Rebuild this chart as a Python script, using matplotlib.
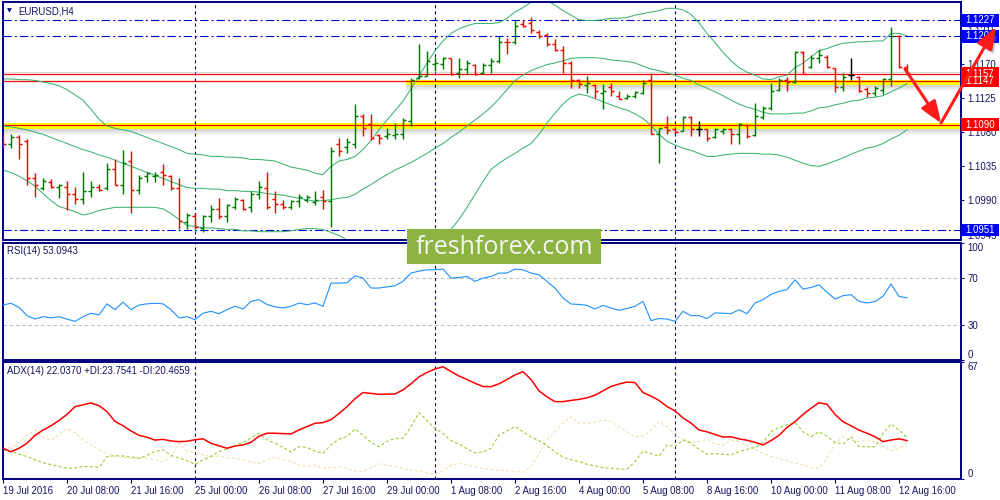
import matplotlib
matplotlib.use('Agg')
import matplotlib.pyplot as plt
import numpy as np
from matplotlib.collections import LineCollection
from matplotlib.patches import Rectangle, FancyArrowPatch
import matplotlib.patheffects as pe
import matplotlib.transforms as mtransforms

plt.rcParams['lines.scale_dashes'] = False
plt.rcParams['font.family'] = ['Liberation Sans', 'DejaVu Sans']

# ---------------- data ----------------
symbol = 'EURUSD,H4'
time_labels = ['19 Jul 2016', '20 Jul 08:00', '21 Jul 16:00', '25 Jul 00:00', '26 Jul 08:00',
               '27 Jul 16:00', '29 Jul 00:00', '1 Aug 08:00', '2 Aug 16:00', '4 Aug 00:00',
               '5 Aug 08:00', '8 Aug 16:00', '10 Aug 00:00', '11 Aug 08:00', '12 Aug 16:00']
time_label_bars = [0, 8, 16, 24, 32, 40, 48, 56, 64, 72, 80, 88, 96, 104, 112]
week_start_bars = [24, 54, 84]

opens = [1.1075, 1.1064, 1.1073, 1.1068, 1.1020, 1.1007, 1.1015, 1.1008, 1.1008, 1.0998,
         1.0992, 1.1002, 1.1008, 1.1006, 1.1031, 1.1011, 1.1042, 1.1004, 1.1022, 1.1022,
         1.1027, 1.1022, 1.1006, 1.0962, 1.0969, 1.0954, 1.0970, 1.0979, 1.0969, 1.0981,
         1.0990, 1.0981, 1.0999, 1.1007, 1.0992, 1.0985, 1.0981, 1.0989, 1.0990, 1.0988,
         1.0995, 1.0989, 1.1065, 1.1061, 1.1065, 1.1101, 1.1091, 1.1076, 1.1075, 1.1076,
         1.1077, 1.1094, 1.1151, 1.1154, 1.1170, 1.1170, 1.1177, 1.1158, 1.1163, 1.1169,
         1.1158, 1.1169, 1.1173, 1.1199, 1.1198, 1.1222, 1.1224, 1.1212, 1.1208, 1.1196,
         1.1188, 1.1171, 1.1148, 1.1142, 1.1142, 1.1132, 1.1139, 1.1128, 1.1125, 1.1128,
         1.1132, 1.1148, 1.1078, 1.1087, 1.1084, 1.1081, 1.1100, 1.1084, 1.1084, 1.1073,
         1.1081, 1.1084, 1.1078, 1.1089, 1.1076, 1.1100, 1.1112, 1.1136, 1.1148, 1.1146,
         1.1186, 1.1166, 1.1178, 1.1179, 1.1165, 1.1139, 1.1155, 1.1153, 1.1137, 1.1132,
         1.1136, 1.1150, 1.1207, 1.1166]
highs = [1.1077, 1.1077, 1.1076, 1.1071, 1.1026, 1.1019, 1.1018, 1.1012, 1.1016, 1.1008,
         1.1027, 1.1016, 1.1012, 1.1039, 1.1044, 1.1056, 1.1055, 1.1024, 1.1028, 1.1027,
         1.1038, 1.1024, 1.1019, 1.0973, 1.0973, 1.0971, 1.0984, 1.0993, 1.0986, 1.0994,
         1.0992, 1.1002, 1.1016, 1.1027, 1.1003, 1.0990, 1.0990, 1.0998, 1.0997, 1.1002,
         1.1004, 1.1061, 1.1072, 1.1072, 1.1117, 1.1104, 1.1104, 1.1077, 1.1085, 1.1092,
         1.1098, 1.1151, 1.1196, 1.1187, 1.1179, 1.1179, 1.1178, 1.1177, 1.1175, 1.1170,
         1.1171, 1.1178, 1.1207, 1.1204, 1.1228, 1.1227, 1.1232, 1.1215, 1.1211, 1.1202,
         1.1194, 1.1174, 1.1150, 1.1154, 1.1143, 1.1143, 1.1145, 1.1134, 1.1130, 1.1134,
         1.1148, 1.1158, 1.1085, 1.1101, 1.1085, 1.1101, 1.1101, 1.1094, 1.1084, 1.1085,
         1.1085, 1.1085, 1.1092, 1.1091, 1.1118, 1.1114, 1.1145, 1.1151, 1.1153, 1.1187,
         1.1187, 1.1181, 1.1190, 1.1181, 1.1165, 1.1158, 1.1178, 1.1154, 1.1139, 1.1141,
         1.1151, 1.1219, 1.1208, 1.1170]
lows = [1.1059, 1.1059, 1.1044, 1.1010, 1.0994, 1.1004, 1.1006, 1.0993, 1.0978, 1.0986,
        1.0986, 1.0995, 1.1002, 1.1004, 1.1011, 1.0999, 1.0974, 1.0999, 1.1015, 1.1015,
        1.1011, 1.1004, 1.0952, 1.0952, 1.0953, 1.0948, 1.0962, 1.0966, 1.0962, 1.0979,
        1.0978, 1.0975, 1.0992, 1.0979, 1.0973, 1.0979, 1.0979, 1.0982, 1.0988, 1.0984,
        1.0979, 1.0955, 1.1048, 1.1052, 1.1059, 1.1075, 1.1069, 1.1064, 1.1071, 1.1071,
        1.1071, 1.1088, 1.1150, 1.1154, 1.1161, 1.1163, 1.1155, 1.1151, 1.1157, 1.1155,
        1.1157, 1.1158, 1.1171, 1.1183, 1.1196, 1.1218, 1.1210, 1.1204, 1.1194, 1.1187,
        1.1158, 1.1138, 1.1138, 1.1132, 1.1125, 1.1110, 1.1128, 1.1124, 1.1124, 1.1125,
        1.1130, 1.1077, 1.1040, 1.1078, 1.1077, 1.1081, 1.1075, 1.1075, 1.1068, 1.1072,
        1.1077, 1.1065, 1.1065, 1.1072, 1.1075, 1.1097, 1.1109, 1.1134, 1.1134, 1.1145,
        1.1157, 1.1165, 1.1171, 1.1165, 1.1133, 1.1134, 1.1148, 1.1133, 1.1126, 1.1128,
        1.1130, 1.1141, 1.1165, 1.1157]
closes = [1.1064, 1.1073, 1.1064, 1.1019, 1.1011, 1.1016, 1.1008, 1.1011, 1.0998, 1.0992,
          1.1002, 1.1008, 1.1004, 1.1032, 1.1011, 1.1039, 1.1004, 1.1019, 1.1026, 1.1024,
          1.1024, 1.1006, 1.0963, 1.0971, 1.0955, 1.0970, 1.0979, 1.0969, 1.0984, 1.0992,
          1.0979, 1.0999, 1.1008, 1.0981, 1.0985, 1.0981, 1.0989, 1.0995, 1.0994, 1.0990,
          1.0989, 1.1055, 1.1055, 1.1067, 1.1101, 1.1085, 1.1072, 1.1072, 1.1077, 1.1077,
          1.1096, 1.1148, 1.1154, 1.1173, 1.1171, 1.1177, 1.1157, 1.1163, 1.1171, 1.1157,
          1.1169, 1.1174, 1.1199, 1.1198, 1.1220, 1.1220, 1.1214, 1.1206, 1.1196, 1.1188,
          1.1171, 1.1148, 1.1143, 1.1145, 1.1134, 1.1134, 1.1134, 1.1124, 1.1128, 1.1133,
          1.1145, 1.1078, 1.1085, 1.1083, 1.1080, 1.1100, 1.1084, 1.1084, 1.1072, 1.1084,
          1.1084, 1.1078, 1.1091, 1.1075, 1.1101, 1.1112, 1.1134, 1.1148, 1.1146, 1.1185,
          1.1157, 1.1178, 1.1181, 1.1166, 1.1139, 1.1153, 1.1155, 1.1134, 1.1132, 1.1138,
          1.1150, 1.1207, 1.1166, 1.1158]

bb_upper = [1.1150, 1.1150, 1.1149, 1.1149, 1.1148, 1.1146, 1.1144, 1.1141, 1.1136, 1.1129,
            1.1122, 1.1110, 1.1097, 1.1088, 1.1085, 1.1083, 1.1081, 1.1077, 1.1073, 1.1069,
            1.1065, 1.1061, 1.1057, 1.1052, 1.1051, 1.1050, 1.1048, 1.1048, 1.1047, 1.1047,
            1.1046, 1.1044, 1.1044, 1.1043, 1.1042, 1.1038, 1.1034, 1.1032, 1.1030, 1.1026,
            1.1024, 1.1035, 1.1042, 1.1044, 1.1048, 1.1057, 1.1069, 1.1083, 1.1096, 1.1108,
            1.1121, 1.1137, 1.1154, 1.1171, 1.1187, 1.1200, 1.1210, 1.1216, 1.1220, 1.1223,
            1.1223, 1.1223, 1.1224, 1.1230, 1.1238, 1.1244, 1.1251, 1.1255, 1.1253, 1.1247,
            1.1240, 1.1234, 1.1228, 1.1227, 1.1227, 1.1228, 1.1230, 1.1230, 1.1231, 1.1234,
            1.1236, 1.1238, 1.1240, 1.1243, 1.1243, 1.1241, 1.1235, 1.1224, 1.1210, 1.1198,
            1.1185, 1.1174, 1.1165, 1.1159, 1.1155, 1.1150, 1.1149, 1.1153, 1.1155, 1.1165,
            1.1171, 1.1179, 1.1187, 1.1190, 1.1194, 1.1197, 1.1198, 1.1199, 1.1199, 1.1200,
            1.1200, 1.1210, 1.1210, 1.1207]
bb_middle = [1.1088, 1.1087, 1.1085, 1.1083, 1.1080, 1.1077, 1.1073, 1.1069, 1.1065, 1.1061,
             1.1057, 1.1054, 1.1050, 1.1047, 1.1043, 1.1039, 1.1035, 1.1031, 1.1027, 1.1023,
             1.1019, 1.1015, 1.1011, 1.1007, 1.1006, 1.1006, 1.1005, 1.1005, 1.1003, 1.1003,
             1.1002, 1.1002, 1.1001, 1.0999, 1.0998, 1.0997, 1.0995, 1.0993, 1.0991, 1.0989,
             1.0990, 1.0991, 1.0993, 1.0994, 1.0998, 1.1005, 1.1011, 1.1018, 1.1024, 1.1030,
             1.1035, 1.1040, 1.1046, 1.1052, 1.1059, 1.1065, 1.1073, 1.1080, 1.1088, 1.1096,
             1.1104, 1.1113, 1.1124, 1.1136, 1.1148, 1.1155, 1.1161, 1.1165, 1.1169, 1.1171,
             1.1174, 1.1177, 1.1178, 1.1178, 1.1178, 1.1177, 1.1175, 1.1174, 1.1173, 1.1171,
             1.1167, 1.1163, 1.1161, 1.1158, 1.1155, 1.1151, 1.1148, 1.1142, 1.1138, 1.1133,
             1.1128, 1.1122, 1.1117, 1.1113, 1.1110, 1.1106, 1.1104, 1.1104, 1.1104, 1.1105,
             1.1105, 1.1108, 1.1112, 1.1113, 1.1116, 1.1118, 1.1121, 1.1122, 1.1125, 1.1126,
             1.1128, 1.1133, 1.1138, 1.1144]
bb_lower = [1.1030, 1.1027, 1.1022, 1.1016, 1.1009, 1.0999, 1.0990, 1.0982, 1.0979, 1.0975,
            1.0971, 1.0973, 1.0977, 1.0979, 1.0981, 1.0981, 1.0981, 1.0981, 1.0981, 1.0981,
            1.0979, 1.0973, 1.0965, 1.0957, 1.0956, 1.0954, 1.0954, 1.0953, 1.0952, 1.0952,
            1.0950, 1.0950, 1.0949, 1.0949, 1.0949, 1.0949, 1.0950, 1.0952, 1.0953, 1.0953,
            1.0952, 1.0948, 1.0944, 1.0938, 1.0934, 1.0932, 1.0930, 1.0930, 1.0930, 1.0932,
            1.0933, 1.0936, 1.0938, 1.0941, 1.0944, 1.0946, 1.0952, 1.0965, 1.0981, 1.0998,
            1.1015, 1.1031, 1.1039, 1.1046, 1.1052, 1.1059, 1.1065, 1.1077, 1.1092, 1.1105,
            1.1117, 1.1126, 1.1130, 1.1128, 1.1124, 1.1120, 1.1116, 1.1112, 1.1109, 1.1104,
            1.1098, 1.1089, 1.1077, 1.1068, 1.1063, 1.1059, 1.1056, 1.1052, 1.1048, 1.1048,
            1.1050, 1.1051, 1.1052, 1.1052, 1.1052, 1.1051, 1.1051, 1.1050, 1.1047, 1.1043,
            1.1039, 1.1036, 1.1035, 1.1038, 1.1042, 1.1046, 1.1051, 1.1055, 1.1059, 1.1061,
            1.1065, 1.1071, 1.1076, 1.1083]

rsi = [47, 48.5, 45, 38, 35, 37, 36, 37, 35, 33,
       37, 40, 38.5, 48, 43, 49.5, 43, 47, 48, 48.5,
       48, 43, 36, 37, 34.5, 40, 41.6, 39.6, 43, 45.9,
       43.6, 50.1, 51.6, 47.5, 45.5, 44.5, 45.9, 48.7, 47.3, 48.7,
       45.9, 65.7, 65.7, 66, 72, 70, 61.5, 61.5, 62.5, 63.5,
       67.2, 74.3, 76, 77.1, 77.1, 77.7, 70, 70.5, 71.4, 67.2,
       70, 71.4, 74.3, 74.3, 77.7, 77.1, 74.3, 72.8, 67.2, 61.5,
       53, 47.9, 47.5, 46.7, 43.6, 46.7, 44.5, 42.5, 44, 45.9,
       50.1, 33.7, 35.4, 35, 33.1, 41.6, 37.9, 37.9, 35.4, 40.2,
       40, 39.6, 43, 39.6, 48.7, 51.6, 56, 58.7, 60.1, 68.6,
       60.6, 62, 64.3, 58, 52.1, 55, 55.8, 50.1, 48.7, 50,
       54.4, 64.9, 54.4, 53.1]

adx = [17.6, 15.6, 17.6, 20.5, 25, 28, 30.5, 33.5, 37, 41.4,
       42.5, 43.5, 42, 38.6, 33, 30.5, 27.5, 25, 23.9, 22.3,
       22.7, 21.8, 21.4, 21.6, 22.5, 23, 20.4, 19, 17.6, 18.9,
       19.5, 21, 24.5, 26.2, 26.2, 26, 25.8, 28.1, 30, 31.9,
       32.3, 34, 37.5, 41.4, 46, 49.5, 49, 48.5, 48.6, 48.7,
       51, 54.5, 58.5, 61, 63, 64.3, 61.5, 59, 57, 54.8,
       53, 52.9, 54.5, 57, 59.6, 61.5, 57, 50.5, 47, 44.3,
       44.3, 45, 45.6, 46.5, 48, 50.5, 53, 54.4, 55.5, 55.2,
       49.5, 47.5, 45, 41.5, 39, 35, 32, 28.1, 27, 25.5,
       24, 24.2, 23, 22.2, 21, 19.5, 22, 25, 29.5, 32.8,
       37, 40.5, 43.7, 42.8, 37, 32.8, 30.5, 28, 26.2, 24.2,
       21.4, 22.3, 23, 22.0]
plus_di = [16.6, 15.8, 14.3, 12.8, 11, 9.3, 8.3, 7.2, 6.1, 6.3,
           7.2, 7, 6.7, 12.8, 13.4, 13.2, 12.6, 11.8, 13.5, 15.8,
           16.6, 13.5, 12, 10.5, 8.5, 11, 13, 15.7, 17.3, 19,
           21, 23.5, 26.2, 22.5, 20.5, 18, 15.5, 18.5, 18, 16,
           14.7, 19.5, 22.8, 24.5, 28.6, 25, 21, 18.5, 21.5, 23.3,
           23.3, 30, 38, 33.5, 29, 26, 22, 20, 17.3, 15,
           15.5, 17.6, 25.2, 27.5, 30, 27, 24, 22, 19, 15.5,
           12.5, 11, 10, 8.5, 7.5, 6.5, 6.2, 5.8, 5.5, 10,
           16, 14.5, 13, 19.5, 18.5, 22.3, 20.5, 17, 14.1, 14.6,
           14.2, 13.7, 15.7, 17, 18, 21, 27, 29.5, 31, 32.3,
           27.1, 24.2, 27.1, 24.5, 21, 20, 24.2, 18.5, 18.5, 18.5,
           26.2, 31.5, 28.1, 23.8]
minus_di = [17, 18, 21, 25, 28.1, 24, 22, 25.5, 29, 26.5,
            22.5, 19.5, 17, 14.7, 12.8, 12.3, 11.9, 12, 11.9, 11,
            9.9, 12.8, 20.4, 16, 15, 13.8, 12.8, 13.2, 12.2, 11.8,
            11, 9.9, 9.0, 11, 12.4, 11, 9.9, 8, 7.1, 8,
            6.1, 6.5, 7.1, 6, 4.6, 4.2, 6.5, 8.6, 7.8, 7.1,
            6, 5.2, 4.5, 3.5, 2.7, 4.5, 8, 9, 8, 7.1,
            6, 5.5, 5.2, 4.8, 4.3, 3.8, 7.1, 14.7, 22.3, 27,
            32, 35.7, 32, 31.9, 32.5, 33.8, 33, 30, 27, 24,
            24.5, 28, 32.8, 30, 25.2, 23, 21, 21.5, 22.7, 20,
            19.5, 22.3, 21.5, 19, 17, 14.7, 13, 11.8, 10.5, 9,
            8, 6.5, 6, 12, 20.4, 24.2, 22, 21.4, 22.3, 21.4,
            18.5, 16, 17.6, 20.5]

price_ticks = [1.1215, 1.1170, 1.1125, 1.1080, 1.1035, 1.0990, 1.0945]
blue_levels = [1.1227, 1.1206, 1.0951]
red_levels = [1.1157, 1.1147, 1.1090]
zone_start_bar = 50.4
rsi_label = 'RSI(14) 53.0943'
adx_label = 'ADX(14) 22.0370 +DI:23.7541 -DI:20.4659'

# ---------------- layout ----------------
W, H = 1000, 500
fig = plt.figure(figsize=(10, 5), dpi=100)
fig.patch.set_facecolor('white')

def fx(px):
    return px / W

def fy(py):
    return 1 - py / H

def add_axes(x0, y0, x1, y1):
    return fig.add_axes([fx(x0), fy(y1), fx(x1 - x0), (y1 - y0) / H])

NAVY = '#000080'
TXT = '#14145e'
FS = 6.9

ax = add_axes(2.5, 2, 961, 240)
ax_rsi = add_axes(2.5, 243, 961, 360)
ax_adx = add_axes(2.5, 362, 961, 479)

xmin = -0.0625
xmax = xmin + (961 - 2.5) / 8.0
ymin, ymax = 1.09380, 1.12513
pp = (ymax - ymin) / 238.0  # price per pixel

for a in (ax, ax_rsi, ax_adx):
    a.set_xlim(xmin, xmax)
    a.set_facecolor('white')
    for s in a.spines.values():
        s.set_color(NAVY)
        s.set_linewidth(1.4)
    a.yaxis.tick_right()
    a.tick_params(axis='y', direction='out', length=2.5, width=0.8, color=NAVY,
                  labelsize=FS, labelcolor=TXT, pad=2)
    a.tick_params(axis='x', bottom=False, labelbottom=False)
    for b in week_start_bars:
        a.axvline(b, color=NAVY, lw=0.8, dashes=(2.2, 2.2), zorder=1.5)

# ---------------- main price panel ----------------
ax.set_ylim(ymin, ymax)
ax.set_yticks(price_ticks)
ax.set_yticklabels(['%.4f' % p for p in price_ticks])

bars = np.arange(len(opens))

# zones (yellow highlight with shadow)
def zone(price, x0):
    ax.add_patch(Rectangle((x0, price - 4.2 * pp), xmax - x0, 5.6 * pp,
                           facecolor='#ffff00', edgecolor='none', zorder=1.2))
    for k in range(6):
        ax.add_patch(Rectangle((x0, price - (4.2 + k + 1) * pp), xmax - x0, pp,
                               facecolor='#707070', alpha=0.30 * (1 - k / 6.0),
                               edgecolor='none', zorder=1.2))

zone(red_levels[1], zone_start_bar)
zone(red_levels[2], xmin)
ax.axhline(red_levels[0] + 2 * pp, color='#d9d9d9', lw=0.8, zorder=1.3)
for p in red_levels:
    ax.axhline(p, color='#ff0000', lw=0.9, zorder=1.4)
for p in blue_levels:
    ax.axhline(p, color='#0000d0', lw=0.8, dashes=(6, 2.2, 1.4, 2.2), zorder=1.4)

# bollinger bands
for band in (bb_upper, bb_middle, bb_lower):
    ax.plot(np.arange(len(band)), band, color='#3cb371', lw=0.75, zorder=2.5)

# OHLC bars
segs, cols = [], []
for i in bars:
    if closes[i] > opens[i]:
        c = '#007a00'
    elif closes[i] < opens[i]:
        c = '#ff0000'
    else:
        c = '#000000'
    segs.append([(i, lows[i]), (i, highs[i])])
    segs.append([(i - 0.42, opens[i]), (i, opens[i])])
    segs.append([(i, closes[i]), (i + 0.42, closes[i])])
    cols += [c, c, c]
ax.add_collection(LineCollection(segs, colors=cols, linewidths=1.05, zorder=3,
                                 capstyle='butt'))

# price label boxes on the right
box_tr = mtransforms.blended_transform_factory(ax.transAxes, ax.transData)
box_w = 38 / 958.5
def price_box(price, color):
    ax.add_patch(Rectangle((1.0, price - 6.2 * pp), box_w, 12.4 * pp, transform=box_tr,
                           facecolor=color, edgecolor='none', clip_on=False, zorder=10))
    ax.text(1.0 + 4.0 / 958.5, price, '%.4f' % price, transform=box_tr, color='white',
            fontsize=FS, va='center', ha='left', clip_on=False, zorder=11)

for p in blue_levels:
    price_box(p, '#0000ff')
for p in red_levels:
    price_box(p, '#ff0000')

# ---------------- RSI panel ----------------
ax_rsi.set_ylim(0, 100)
ax_rsi.plot(np.arange(len(rsi)), rsi, color='#1e90ff', lw=0.8, zorder=3)
for lvl in (30, 70):
    ax_rsi.axhline(lvl, color='#c0c0c0', lw=0.8, dashes=(2.5, 2.0), zorder=1)
ax_rsi.set_yticks([0, 30, 70, 100])
ax_rsi.set_yticklabels(['0', '30', '70', '100'])
labs = ax_rsi.get_yticklabels()
labs[0].set_verticalalignment('bottom')
labs[3].set_verticalalignment('top')

# ---------------- ADX panel ----------------
ax_adx.set_ylim(0, 67)
ax_adx.plot(np.arange(len(minus_di)), minus_di, color='#f5deb3', lw=0.8,
            dashes=(2.2, 1.6), zorder=2)
ax_adx.plot(np.arange(len(plus_di)), plus_di, color='#9acd32', lw=0.8,
            dashes=(2.2, 1.6), zorder=2.2)
ax_adx.plot(np.arange(len(adx)), adx, color='#ff0000', lw=1.1, zorder=3)
ax_adx.set_yticks([0, 67])
ax_adx.set_yticklabels(['0', '67'])
labs = ax_adx.get_yticklabels()
labs[0].set_verticalalignment('bottom')
labs[1].set_verticalalignment('top')

ax_adx.tick_params(axis='x', bottom=True, labelbottom=True, direction='out', length=3.2,
                   width=0.8, color=NAVY, labelsize=FS, labelcolor=TXT, pad=1.5)
ax_adx.set_xticks(time_label_bars)
ax_adx.set_xticklabels(time_labels, ha='left')

# ---------------- texts ----------------
fig.text(fx(9), fy(11), '\u25BC', fontsize=4.5, color=NAVY, ha='center', va='center',
         family=['DejaVu Sans'])
fig.text(fx(18), fy(11), symbol, fontsize=FS, color=TXT, ha='left', va='center')
fig.text(fx(7), fy(251.5), rsi_label, fontsize=FS, color=TXT, ha='left', va='center')
fig.text(fx(7), fy(371.5), adx_label, fontsize=FS, color=TXT, ha='left', va='center')

# ---------------- watermark ----------------
wm = Rectangle((fx(407), fy(264)), fx(194), 35 / H, transform=fig.transFigure,
               facecolor='#8db443', edgecolor='none', zorder=20)
fig.add_artist(wm)
fig.text(fx(504), fy(247), 'freshforex.com', fontsize=18, color='#f5f5f5',
         family=['Open Sans', 'DejaVu Sans'], ha='center', va='center', zorder=21)

# ---------------- arrows ----------------
shadow = [pe.withSimplePatchShadow(offset=(2, -3), shadow_rgbFace='#808080', alpha=0.45)]
for (x0, y0, x1, y1) in [(905, 69, 941, 123), (941, 123, 996, 27)]:
    arr = FancyArrowPatch((fx(x0), fy(y0)), (fx(x1), fy(y1)), transform=fig.transFigure,
                          arrowstyle='-|>,head_length=13,head_width=5', lw=2.2,
                          color='#ff1a1a', zorder=25, shrinkA=0, shrinkB=0,
                          path_effects=shadow)
    fig.add_artist(arr)

fig.savefig('out.png', dpi=100)
